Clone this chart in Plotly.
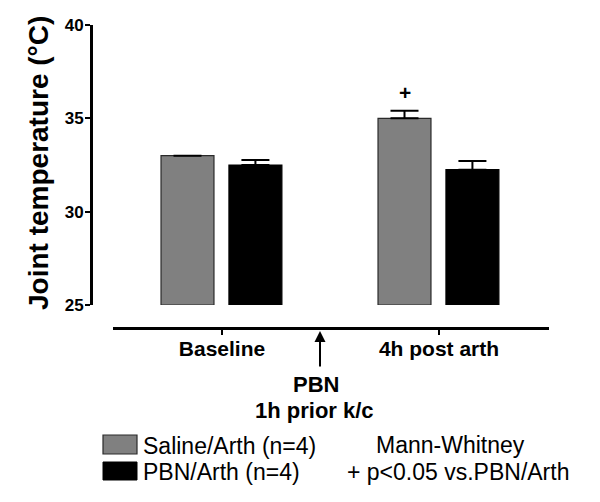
import plotly.graph_objects as go

# ---- data ----
categories = ["Baseline", "4h post arth"]
saline_mean = [33.0, 35.0]
saline_sem = [None, 0.4]
pbn_mean = [32.5, 32.25]
pbn_sem = [0.27, 0.47]
series_names = ["Saline/Arth (n=4)", "PBN/Arth (n=4)"]
y_ticks = [25, 30, 35, 40]
y_range = [25, 40]

FONT = "Liberation Sans, Arial, sans-serif"
GRAY = "#808080"

# ---- layout geometry (pixels, page coords; page body has 8px margin) ----
OFF = 8
W, H = 600, 502
AX_L, AX_R, AX_T, AX_B = 91, 549, 25, 328   # page coords of plotting paper
ML, MR, MT, MB = AX_L - OFF, W - (AX_R - OFF), AX_T - OFF, H - (AX_B - OFF)
PW = AX_R - AX_L
PH = AX_B - AX_T


def px(xp):
    return (xp - AX_L) / PW


def py(yp):
    return (AX_B - yp) / PH


xpos = list(range(len(categories)))
BW = 0.244

fig = go.Figure()
fig.add_trace(go.Bar(
    x=xpos, y=[v - y_range[0] for v in saline_mean], base=y_range[0],
    width=BW, offset=-0.281, name=series_names[0],
    marker=dict(color=GRAY, line=dict(color="#2a2a2a", width=1.2)),
    error_y=dict(type="data", array=saline_sem, arrayminus=[0] * len(saline_sem),
                 symmetric=False, color="black", thickness=2, width=14,
                 visible=True),
    showlegend=False,
))
fig.add_trace(go.Bar(
    x=xpos, y=[v - y_range[0] for v in pbn_mean], base=y_range[0],
    width=BW, offset=0.032, name=series_names[1],
    marker=dict(color="black", line=dict(color="black", width=1.2)),
    error_y=dict(type="data", array=pbn_sem, arrayminus=[0] * len(pbn_sem),
                 symmetric=False, color="black", thickness=2, width=14,
                 visible=True),
    showlegend=False,
))

annotations = [
    # y axis title
    dict(text="<b>Joint temperature (°C)</b>", x=px(38), y=py(163),
         xref="paper", yref="paper", showarrow=False, textangle=-90,
         font=dict(family=FONT, size=28, color="black"),
         xanchor="center", yanchor="middle"),
    # significance marker
    dict(text="<b>+</b>", x=xpos[1] - 0.281 + BW / 2, y=py(92),
         xref="x", yref="paper", showarrow=False,
         font=dict(family=FONT, size=21, color="black"),
         xanchor="center", yanchor="middle"),
    # arrow
    dict(text="", x=px(320), y=py(331), xref="paper", yref="paper",
         showarrow=True, ax=0, ay=37, axref="pixel", ayref="pixel",
         arrowhead=2, arrowsize=1.1, arrowwidth=2, arrowcolor="black"),
    dict(text="<b>PBN</b>", x=px(316), y=py(384), xref="paper", yref="paper",
         showarrow=False, font=dict(family=FONT, size=22, color="black"),
         xanchor="center", yanchor="middle"),
    dict(text="<b>1h prior k/c</b>", x=px(314), y=py(410), xref="paper", yref="paper",
         showarrow=False, font=dict(family=FONT, size=22, color="black"),
         xanchor="center", yanchor="middle"),
    # legend texts
    dict(text=series_names[0], x=px(141), y=py(446), xref="paper", yref="paper",
         showarrow=False, font=dict(family=FONT, size=23, color="black"),
         xanchor="left", yanchor="middle"),
    dict(text=series_names[1], x=px(141), y=py(472), xref="paper", yref="paper",
         showarrow=False, font=dict(family=FONT, size=23, color="black"),
         xanchor="left", yanchor="middle"),
    dict(text="Mann-Whitney", x=px(450), y=py(445), xref="paper", yref="paper",
         showarrow=False, font=dict(family=FONT, size=23, color="black"),
         xanchor="center", yanchor="middle"),
    dict(text="+ p<0.05 vs.PBN/Arth", x=px(458), y=py(472), xref="paper", yref="paper",
         showarrow=False, font=dict(family=FONT, size=23, color="black"),
         xanchor="center", yanchor="middle"),
]

shapes = [
    dict(type="rect", xref="paper", yref="paper", x0=px(103), x1=px(137),
         y0=py(454), y1=py(435), fillcolor=GRAY, line=dict(color="#2a2a2a", width=1.2)),
    dict(type="rect", xref="paper", yref="paper", x0=px(103), x1=px(137),
         y0=py(480), y1=py(462), fillcolor="black", line=dict(color="black", width=1)),
]

fig.update_layout(
    width=W, height=H,
    margin=dict(l=ML, r=MR, t=MT, b=MB, pad=0, autoexpand=False),
    paper_bgcolor="white", plot_bgcolor="white",
    barmode="overlay",
    font=dict(family=FONT, color="black"),
    xaxis=dict(
        domain=[px(113), 1.0], range=[-0.5023, 1.5069],
        anchor="free", position=0, automargin=False,
        tickvals=xpos, ticktext=[f"<b>{c}</b>" for c in categories],
        tickfont=dict(family=FONT, size=21, color="black"),
        ticks="outside", ticklen=5, tickwidth=2, tickcolor="black",
        ticklabelstandoff=-4,
        showline=True, linewidth=3, linecolor="black",
        showgrid=False, zeroline=False, fixedrange=True,
    ),
    yaxis=dict(
        domain=[py(305), 1.0], range=y_range,
        anchor="free", position=0, automargin=False,
        tickvals=y_ticks, ticktext=[f"<b>{t}</b>" for t in y_ticks],
        tickfont=dict(family=FONT, size=17, color="black"),
        ticks="outside", ticklen=5, tickwidth=2, tickcolor="black",
        ticklabelstandoff=-2,
        showline=True, linewidth=3, linecolor="black",
        showgrid=False, zeroline=False, fixedrange=True,
    ),
    annotations=annotations,
    shapes=shapes,
)

fig.write_html("out.html")
